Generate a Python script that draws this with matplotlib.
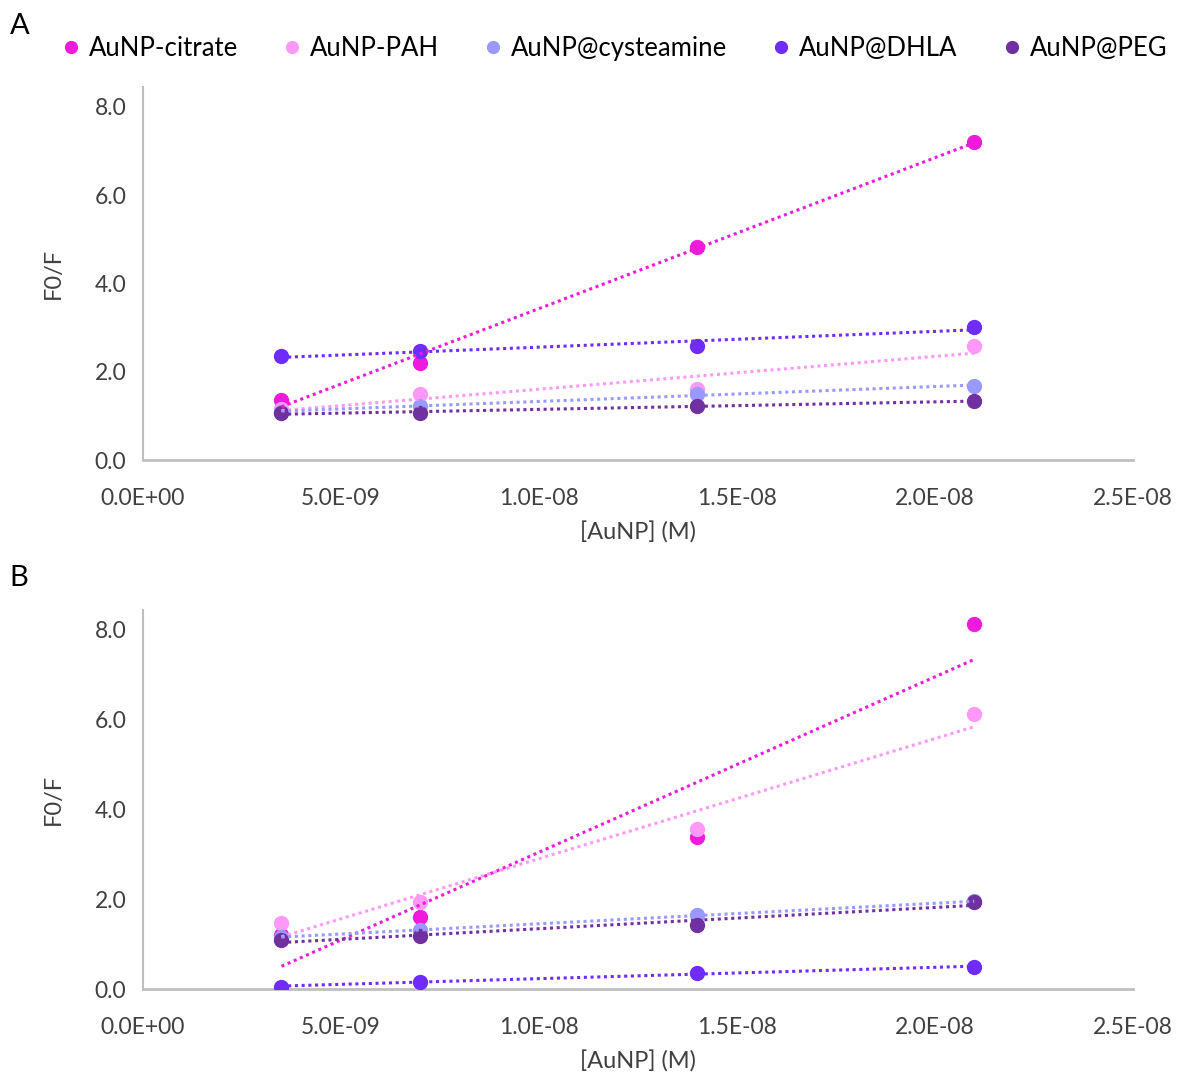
import numpy as np
import matplotlib
matplotlib.use('Agg')
import matplotlib.pyplot as plt

plt.rcParams['font.family'] = ['Lato', 'DejaVu Sans']

# data
conc = [3.5e-9, 7.0e-9, 1.4e-8, 2.1e-8]
names = ['AuNP-citrate', 'AuNP-PAH', 'AuNP@cysteamine', 'AuNP@DHLA', 'AuNP@PEG']
colors = ['#F01ADC', '#FF99F8', '#9999FF', '#6F2CFF', '#7030A0']

a_citrate = [1.36, 2.20, 4.83, 7.21]
a_pah = [1.15, 1.50, 1.60, 2.58]
a_cyst = [1.10, 1.22, 1.50, 1.68]
a_dhla = [2.36, 2.47, 2.58, 3.02]
a_peg = [1.06, 1.07, 1.22, 1.34]

b_citrate = [1.20, 1.61, 3.39, 8.12]
b_pah = [1.46, 1.93, 3.56, 6.12]
b_cyst = [1.15, 1.32, 1.64, 1.95]
b_dhla = [0.05, 0.16, 0.36, 0.49]
b_peg = [1.10, 1.17, 1.43, 1.93]

panels = [('A', [a_citrate, a_pah, a_cyst, a_dhla, a_peg]),
          ('B', [b_citrate, b_pah, b_cyst, b_dhla, b_peg])]

xticks = [0, 5e-9, 1e-8, 1.5e-8, 2e-8, 2.5e-8]
xticklabels = ['0.0E+00', '5.0E-09', '1.0E-08', '1.5E-08', '2.0E-08', '2.5E-08']
yticks = [0, 2, 4, 6, 8]

fig = plt.figure(figsize=(11.81, 10.75), dpi=100)
rects = [[0.121, 0.572, 0.838, 0.347], [0.121, 0.080, 0.838, 0.353]]
txt = '#404040'

for (label, series), rect in zip(panels, rects):
    ax = fig.add_axes(rect)
    x = np.array(conc)
    for name, col, y in zip(names, colors, series):
        ax.plot(x, y, 'o', color=col, markersize=10, label=name, zorder=3)
    # linear trendlines, drawn over the markers
    for col, y in zip(colors, series):
        m, c = np.polyfit(x, y, 1)
        ax.plot(x[[0, -1]], m * x[[0, -1]] + c, linestyle=(0, (1, 1.2)),
                color=col, linewidth=2.2, zorder=4)
    ax.set_xlim(0, 2.5e-8)
    ax.set_ylim(0, 8.45)
    ax.set_xticks(xticks)
    ax.set_xticklabels(xticklabels)
    ax.set_yticks(yticks)
    ax.set_yticklabels(['%.1f' % v for v in yticks])
    ax.tick_params(length=0, labelsize=16.5, colors=txt, pad=12)
    ax.tick_params(axis='x', pad=20)
    for s in ['top', 'right']:
        ax.spines[s].set_visible(False)
    ax.spines['left'].set_color('#BFBFBF')
    ax.spines['left'].set_linewidth(1.5)
    ax.spines['bottom'].set_color('#BFBFBF')
    ax.spines['bottom'].set_linewidth(2)
    ax.set_xlabel('[AuNP] (M)', fontsize=17, color=txt, labelpad=9)
    ax.set_ylabel('F0/F', fontsize=17, color=txt, labelpad=22)
    if label == 'A':
        handles, labels = ax.get_legend_handles_labels()

fig.text(0.008, 0.976, 'A', fontsize=21, color='black', va='center')
fig.text(0.008, 0.462, 'B', fontsize=21, color='black', va='center')

fig.legend(handles, labels, loc='center', bbox_to_anchor=(0.521, 0.955), ncol=5,
           frameon=False, fontsize=18.5, handlelength=0.6, handletextpad=0.4,
           columnspacing=1.8, markerscale=0.85, labelcolor='black')

fig.savefig('out.png', dpi=100)
